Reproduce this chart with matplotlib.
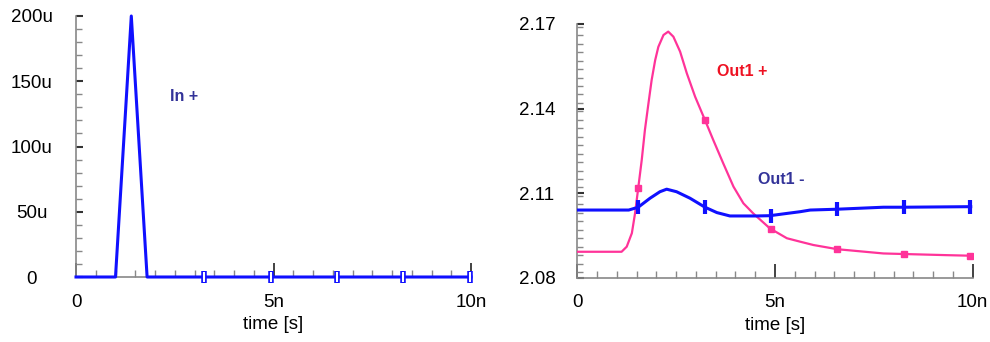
import matplotlib
matplotlib.use("Agg")
import matplotlib.pyplot as plt
from matplotlib.ticker import FixedLocator, MultipleLocator

plt.rcParams['font.family'] = ['Liberation Sans', 'DejaVu Sans']

# time axis in ns
t_in = [0.0, 1.0, 1.4, 1.8, 10.0]
in_plus = [0.0, 0.0, 200.0, 0.0, 0.0]           # in u
in_marks_t = [3.25, 4.93, 6.6, 8.29, 9.97]
in_marks_v = [0.0, 0.0, 0.0, 0.0, 0.0]

t_out_p = [0.0, 1.12, 1.25, 1.38, 1.46, 1.54, 1.63, 1.71, 1.80, 1.88, 1.97,
           2.05, 2.18, 2.30, 2.43, 2.60, 2.77, 2.98, 3.23, 3.44, 3.69, 3.95,
           4.20, 4.45, 4.87, 5.30, 5.63, 5.97, 6.58, 7.20, 7.74, 8.26, 9.34,
           9.95]
out1_plus = [2.0892, 2.0892, 2.0910, 2.0958, 2.1028, 2.1117, 2.1218, 2.1324,
             2.1419, 2.1501, 2.1572, 2.1619, 2.1661, 2.1673, 2.1655, 2.1602,
             2.1525, 2.1442, 2.1359, 2.1288, 2.1206, 2.1123, 2.1064, 2.1028,
             2.0975, 2.0940, 2.0928, 2.0916, 2.0901, 2.0893, 2.0886, 2.0884,
             2.0880, 2.0878]

t_out_m = [0.0, 1.30, 1.54, 1.84, 2.09, 2.26, 2.51, 2.85, 3.23, 3.53, 3.86,
           4.54, 4.87, 5.30, 5.63, 5.89, 6.58, 7.74, 8.26, 9.95]
out1_minus = [2.1040, 2.1040, 2.1050, 2.1082, 2.1105, 2.1114, 2.1105, 2.1082,
              2.1050, 2.1031, 2.1019, 2.1019, 2.1020, 2.1028, 2.1034, 2.1040,
              2.1043, 2.1050, 2.1050, 2.1052]

mark_t = [1.54, 3.23, 4.89, 6.58, 8.26, 9.93]
plus_marks = [2.1117, 2.1359, 2.0974, 2.0901, 2.0884, 2.0878]
minus_marks = [2.1050, 2.1050, 2.1020, 2.1043, 2.1050, 2.1052]

x_ticks = [0, 5, 10]
x_labels = ["0", "5n", "10n"]
left_yticks = [0, 50, 100, 150, 200]
left_ylabels = ["0", "50u", "100u", "150u", "200u"]
right_yticks = [2.08, 2.11, 2.14, 2.17]
right_ylabels = ["2.08", "2.11", "2.14", "2.17"]

BLUE = "#1010ff"
PINK = "#ff3399"
NAVY = "#333399"
RED = "#ee1122"
GRAY = "#888888"

fig = plt.figure(figsize=(9.9, 3.42), dpi=100)
ax1 = fig.add_axes([76 / 990, 1 - 277 / 342, 395 / 990, 261 / 342])
ax2 = fig.add_axes([577.3 / 990, 1 - 277.7 / 342, 395.4 / 990, 253.7 / 342])


def style_axes(ax, ypad):
    for s in ("top", "right"):
        ax.spines[s].set_visible(False)
    for s in ("left", "bottom"):
        ax.spines[s].set_color(GRAY)
        ax.spines[s].set_linewidth(1.2)
    ax.xaxis.set_major_locator(FixedLocator(x_ticks))
    ax.set_xticklabels(x_labels)
    ax.xaxis.set_minor_locator(MultipleLocator(0.5))
    ax.tick_params(axis="x", which="major", direction="in", length=10,
                   width=1.2, color="#222222", labelsize=13.5, pad=12)
    ax.tick_params(axis="x", which="minor", direction="in", length=5,
                   width=1, color=GRAY)
    ax.tick_params(axis="y", which="major", direction="in", length=5,
                   width=1.5, color="#333333", labelsize=13.5, pad=ypad)
    ax.tick_params(axis="y", which="minor", direction="in", length=4,
                   width=1, color=GRAY)
    for lbl in ax.get_yticklabels():
        lbl.set_horizontalalignment("center")
    ax.set_xlim(0, 10)
    ax.set_xlabel("time [s]", fontsize=13.5, labelpad=4)


# left panel
ax1.plot(t_in, in_plus, color=BLUE, lw=2.2, zorder=3, clip_on=False)
ax1.plot(in_marks_t, in_marks_v, ls="none", marker="|", ms=9, mew=4,
         color=BLUE, zorder=4, clip_on=False)
ax1.plot(in_marks_t, in_marks_v, ls="none", marker="|", ms=7, mew=1.5,
         color="white", zorder=5, clip_on=False)
ax1.set_ylim(0, 200)
ax1.yaxis.set_major_locator(FixedLocator(left_yticks))
ax1.set_yticklabels(left_ylabels)
ax1.yaxis.set_minor_locator(MultipleLocator(10))
style_axes(ax1, 32)
ax1.text(2.38, 138, "In +", color=NAVY, fontsize=11.5, fontweight="bold",
         ha="left", va="center")

# right panel
ax2.plot(t_out_p, out1_plus, color=PINK, lw=1.6, zorder=3)
ax2.plot(mark_t, plus_marks, ls="none", marker="s", ms=5, color=PINK, zorder=4)
ax2.plot(t_out_m, out1_minus, color=BLUE, lw=2.2, zorder=3)
ax2.plot(mark_t, minus_marks, ls="none", marker="|", ms=10, mew=3,
         color=BLUE, zorder=4)
ax2.set_ylim(2.08, 2.17)
ax2.yaxis.set_major_locator(FixedLocator(right_yticks))
ax2.set_yticklabels(right_ylabels)
ax2.yaxis.set_minor_locator(MultipleLocator(0.003))
style_axes(ax2, 29)
ax2.text(3.53, 2.1531, "Out1 +", color=RED, fontsize=11.5, fontweight="bold",
         ha="left", va="center")
ax2.text(4.58, 2.1147, "Out1 -", color=NAVY, fontsize=11.5, fontweight="bold",
         ha="left", va="center")

fig.savefig("out.png", dpi=100)
